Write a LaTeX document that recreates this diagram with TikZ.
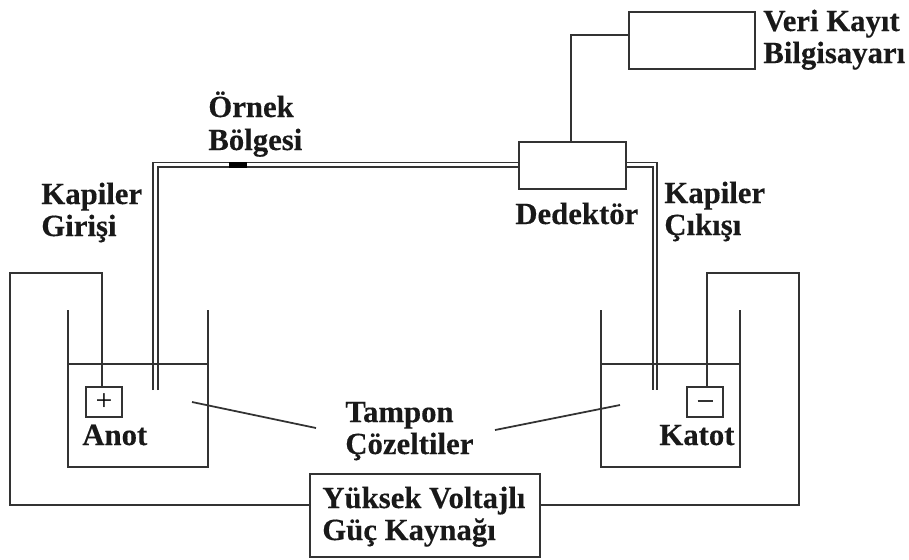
\documentclass[tikz,border=0pt]{standalone}
\usepackage{fontspec}
\setmainfont[BoldFeatures={FakeBold=0.3}]{Liberation Serif}
\usepackage{tikz}

\tikzset{
	wire/.style={line width=1.3pt, black!80},
	thinwire/.style={line width=1pt, black!80},
	unitbox/.style={draw, line width=1.3pt, black!80, inner sep=0pt},
	label/.style={font=\fontsize{17.5}{18.2}\selectfont\bfseries, align=left, text=black!90, inner sep=0pt},
}

\begin{document}
\begin{tikzpicture}[x=0.02cm, y=-0.02cm]
	\useasboundingbox (0,0) rectangle (909,559);
	% boxes
	\node[unitbox, minimum width=2.52cm, minimum height=1.14cm] (kayit) at (692,40.5) {};
	\node[unitbox, minimum width=2.14cm, minimum height=0.94cm] (dedektor) at (572.5,165.5) {};
	\node[unitbox, minimum width=4.6cm, minimum height=1.66cm] (guc) at (425,515.5) {};
	\node[unitbox, minimum width=0.72cm, minimum height=0.6cm] (anotbox) at (104,402) {};
	\node[unitbox, minimum width=0.72cm, minimum height=0.6cm] (katotbox) at (705,402) {};
	\node[font=\fontsize{17}{17}\selectfont, inner sep=0pt] (arti) at (anotbox) {+};
	\coordinate (eksisol) at (697.5,401);
	\coordinate (eksisag) at (712.5,401);
	\draw[thinwire] (eksisol) -- (eksisag);
	% beakers
	\draw[wire] (68,310) -- (68,467) -- (208,467) -- (208,310);
	\draw[wire] (601,310) -- (601,467) -- (740,467) -- (740,310);
	\draw[thinwire] (68,364) -- (208,364);
	\draw[thinwire] (601,364) -- (740,364);
	% electrode wires
	\coordinate (anottop) at (102,273);
	\coordinate (soltop) at (10,273);
	\coordinate (solalt) at (10,505);
	\coordinate (katottop) at (707,273);
	\coordinate (sagtop) at (799,273);
	\coordinate (sagalt) at (799,505);
	\draw[wire] (anotbox.north -| anottop) -- (anottop) -- (soltop) -- (solalt) -- (solalt -| guc.west);
	\draw[wire] (katotbox.north -| katottop) -- (katottop) -- (sagtop) -- (sagalt) -- (sagalt -| guc.east);
	% capillary
	\coordinate (girisdis) at (153,390);
	\coordinate (girisic) at (158,390);
	\coordinate (cikisdis) at (657,390);
	\coordinate (cikisic) at (653,390);
	\draw[thinwire] (girisdis) -- (153,162.5) -- (dedektor.west |- 0,162.5);
	\draw[thinwire] (girisic) -- (158,167) -- (dedektor.west |- 0,167);
	\draw[thinwire] (dedektor.east |- 0,162.5) -- (657,162.5) -- (cikisdis);
	\draw[thinwire] (dedektor.east |- 0,167) -- (653,167) -- (cikisic);
	\fill[black] (229,162) rectangle (247,167.5);
	% detector to computer
	\coordinate (dirsek) at (571,35);
	\draw[wire] (dedektor.north -| dirsek) -- (dirsek) -- (dirsek -| kayit.west);
	% buffer leaders
	\coordinate (solcozelti) at (192,402);
	\coordinate (solucu) at (316,428);
	\coordinate (sagucu) at (495,430);
	\coordinate (sagcozelti) at (620,405);
	\draw[thinwire] (solcozelti) -- (solucu);
	\draw[thinwire] (sagucu) -- (sagcozelti);
	% labels
	\node[label, anchor=base west] (tampon) at (345,422) {Tampon};
	\node[label, anchor=base west] (cozelti) at (345,454) {Çözeltiler};
	\node[label, anchor=base west] (veri) at (763,31) {Veri Kayıt};
	\node[label, anchor=base west] (bilgisayar) at (763,63) {Bilgisayarı};
	\node[label, anchor=base west] (ornek) at (208,117) {Örnek};
	\node[label, anchor=base west] (bolge) at (208,150) {Bölgesi};
	\node[label, anchor=base west] (giris) at (41,204) {Kapiler};
	\node[label, anchor=base west] (girisb) at (41,236) {Girişi};
	\node[label, anchor=base west] (cikis) at (664,203) {Kapiler};
	\node[label, anchor=base west] (cikisb) at (664,235) {Çıkışı};
	\node[label, anchor=base west] (dedektorlbl) at (515,224) {Dedektör};
	\node[label, anchor=base west] (anot) at (82,445) {Anot};
	\node[label, anchor=base west] (katot) at (659,445) {Katot};
	\node[label, anchor=base west] (yuksek) at (322,508) {Yüksek Voltajlı};
	\node[label, anchor=base west] (kaynak) at (322,540) {Güç Kaynağı};
\end{tikzpicture}
\end{document}
